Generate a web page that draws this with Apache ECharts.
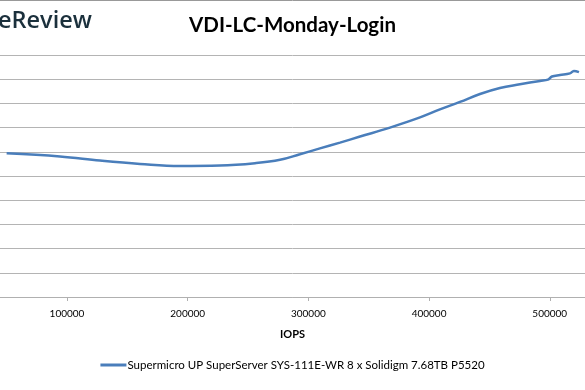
<!DOCTYPE html>
<html>
<head>
<meta charset="utf-8">
<script src="https://cdn.jsdelivr.net/npm/echarts@6/dist/echarts.min.js"></script>
<style>
html,body{margin:0;padding:0;background:#fff;}
#chart{width:585px;height:390px;}
</style>
</head>
<body>
<div id="chart"></div>
<script>
var seriesName = 'Supermicro UP SuperServer SYS-111E-WR 8 x Solidigm 7.68TB P5520';
var iops = [50000, 94200, 127300, 160500, 193600, 226800, 255800, 276500, 293000, 309600, 326200, 342800, 367600, 392500, 409000, 425600, 442200, 458700, 475300, 491900, 498500, 501800, 508500, 516700, 520000, 524200];
var latency = [0.594, 0.581, 0.564, 0.550, 0.541, 0.543, 0.553, 0.567, 0.590, 0.614, 0.638, 0.663, 0.700, 0.742, 0.775, 0.806, 0.839, 0.864, 0.879, 0.893, 0.898, 0.911, 0.917, 0.924, 0.934, 0.929];
var xTickValues = [100000, 200000, 300000, 400000, 500000];
var xVisibleRange = [44500, 529200];

var data = iops.map(function (v, i) { return [v, latency[i]]; });

var chart = echarts.init(document.getElementById('chart'), null, {renderer: 'canvas'});
chart.setOption({
  backgroundColor: '#ffffff',
  animation: false,
  title: {
    text: 'VDI-LC-Monday-Login',
    left: 'center',
    top: 10,
    textStyle: {fontFamily: 'Lato', fontWeight: 'bold', fontSize: 20.5, color: '#000000'}
  },
  graphic: [
    {type: 'text', left: -2, top: 9, style: {text: 'eReview', font: '600 23.5px "Open Sans"', fill: '#1b303c'}},
    {type: 'line', shape: {x1: 0, y1: 0.5, x2: 585, y2: 0.5}, style: {stroke: '#999999', lineWidth: 1}}
  ],
  legend: {
    bottom: 14,
    left: 'center',
    itemWidth: 26,
    itemHeight: 3,
    itemGap: 2,
    icon: 'rect',
    textStyle: {fontFamily: 'Lato', fontSize: 11.5, color: '#000000', padding: [0, 0, 0, -4]},
    data: [seriesName]
  },
  grid: {left: 0, right: 0, top: 55, bottom: 93, containLabel: false},
  xAxis: {
    type: 'value',
    min: xVisibleRange[0],
    max: xVisibleRange[1],
    name: 'IOPS',
    nameLocation: 'middle',
    nameGap: 32,
    nameTextStyle: {fontFamily: 'Lato', fontWeight: 'bold', fontSize: 11, color: '#000000'},
    axisLine: {show: true, lineStyle: {color: '#b0b0b0', width: 1}},
    axisTick: {show: true, length: 4, customValues: xTickValues, lineStyle: {color: '#b0b0b0'}},
    axisLabel: {fontFamily: 'Lato', fontSize: 10, color: '#000000', margin: 12, customValues: xTickValues,
      formatter: function (v) { return String(v); }},
    splitLine: {show: false}
  },
  yAxis: {
    type: 'value',
    min: 0,
    max: 1,
    interval: 0.1,
    axisLine: {show: false},
    axisTick: {show: false},
    axisLabel: {show: false},
    splitLine: {show: true, lineStyle: {color: '#b4b4b4', width: 1}}
  },
  series: [{
    name: seriesName,
    type: 'line',
    data: data,
    smooth: 0.4,
    showSymbol: false,
    symbol: 'none',
    lineStyle: {color: '#4a7ebb', width: 2.5},
    itemStyle: {color: '#4a7ebb'}
  }]
});
</script>
</body>
</html>
